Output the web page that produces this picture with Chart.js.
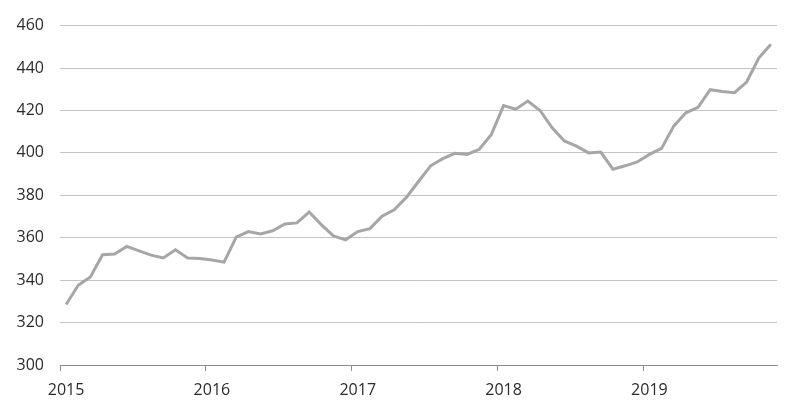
<!DOCTYPE html>
<html>
<head>
<meta charset="utf-8">
<script src="https://cdn.jsdelivr.net/npm/chart.js@4"></script>
<style>
  html, body { margin: 0; padding: 0; background: #fff; }
  #wrap { width: 800px; height: 412px; }
</style>
</head>
<body>
<div id="wrap"><canvas id="priceChart"></canvas></div>
<script>
// monthly, Jan 2015 - Nov 2019
const years = ['2015', '2016', '2017', '2018', '2019'];
const months = ['Jan', 'Feb', 'Mar', 'Apr', 'May', 'Jun', 'Jul', 'Aug', 'Sep', 'Oct', 'Nov', 'Dec'];
const values = [
    328.5, 337.6, 341.5, 352.0, 352.3, 355.9, 353.8, 351.8, 350.5, 354.3, 350.4, 350.2, // 2015
    349.5, 348.5, 360.3, 362.9, 361.8, 363.3, 366.5, 367.0, 372.1, 366.2, 360.9, 359.0, // 2016
    362.9, 364.3, 370.1, 373.2, 379.0, 386.5, 393.9, 397.3, 399.8, 399.3, 401.7, 408.7, // 2017
    422.3, 420.6, 424.4, 420.0, 411.8, 405.6, 403.2, 400.0, 400.4, 392.3, 393.9, 395.7, // 2018
    399.3, 402.1, 412.6, 418.9, 421.5, 429.8, 428.9, 428.4, 433.4, 444.7, 451.2          // 2019
];

const labels = values.map((v, i) => months[i % 12] + ' ' + years[Math.floor(i / 12)]);

const ctx = document.getElementById('priceChart').getContext('2d');
new Chart(ctx, {
    type: 'line',
    data: {
        labels: labels,
        datasets: [{
            data: values,
            borderColor: '#a6a6a6',
            borderWidth: 3,
            pointRadius: 0,
            tension: 0,
            fill: false
        }]
    },
    options: {
        responsive: true,
        maintainAspectRatio: false,
        animation: false,
        layout: { padding: { top: 24, right: 23, left: 0, bottom: 0 } },
        plugins: {
            legend: { display: false },
            tooltip: { enabled: false }
        },
        scales: {
            x: {
                offset: true,
                grid: {
                    offset: true,
                    drawOnChartArea: false,
                    tickLength: 6,
                    color: c => (c.index % 12 === 0 ? '#8c8c8c' : 'rgba(0,0,0,0)')
                },
                border: { display: true, color: '#8c8c8c', width: 1 },
                ticks: {
                    autoSkip: false,
                    maxRotation: 0,
                    padding: 10,
                    color: '#2b2b2b',
                    font: { family: 'Open Sans', size: 16 },
                    callback: (val, i) => (i % 12 === 0 ? years[i / 12] : '')
                },
                afterFit: s => { s.height = 47; }
            },
            y: {
                min: 300,
                max: 460,
                grid: { color: '#c4c4c4', drawTicks: false },
                border: { display: false },
                ticks: {
                    stepSize: 20,
                    padding: 16,
                    color: '#2b2b2b',
                    font: { family: 'Open Sans', size: 16 }
                },
                afterFit: s => { s.width = 60; }
            }
        }
    }
});
</script>
</body>
</html>
